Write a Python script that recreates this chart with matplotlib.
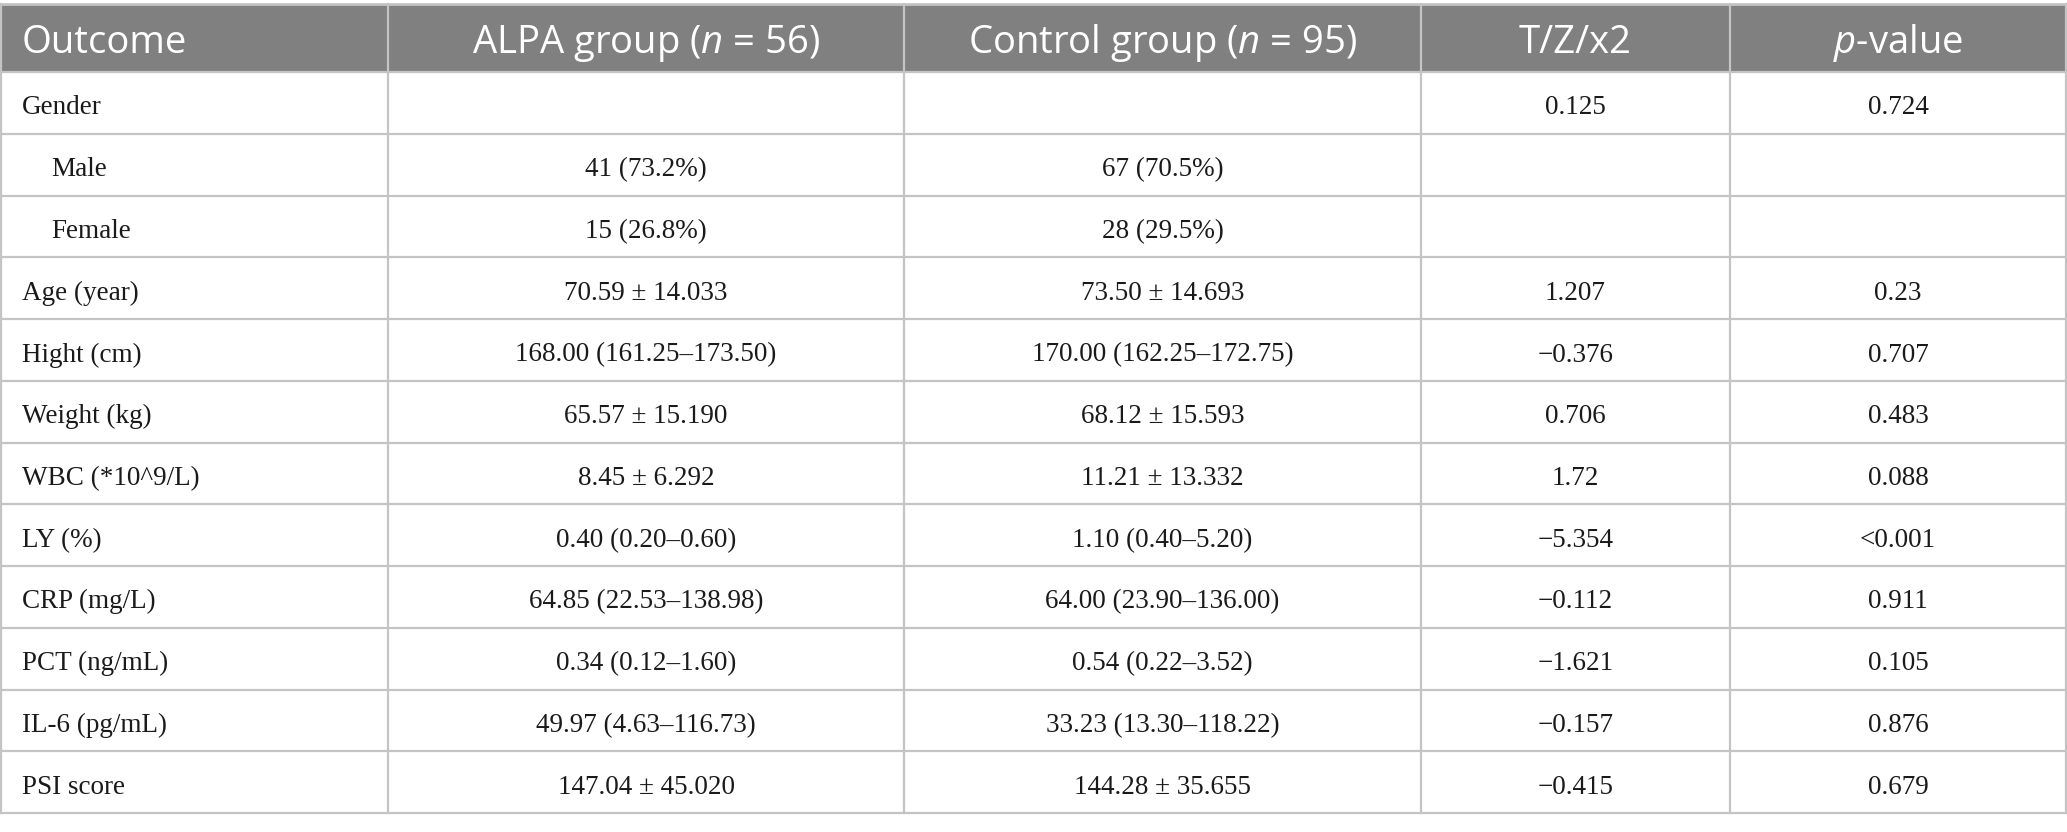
import matplotlib
matplotlib.use("Agg")
import matplotlib.pyplot as plt
from matplotlib.patches import Rectangle

# table content
headers = ["Outcome", r"ALPA group ($n$ = 56)", r"Control group ($n$ = 95)", "T/Z/x2", r"$p$-value"]
outcomes = ["Gender", "Male", "Female", "Age (year)", "Hight (cm)", "Weight (kg)",
            "WBC (*10^9/L)", "LY (%)", "CRP (mg/L)", "PCT (ng/mL)", "IL-6 (pg/mL)", "PSI score"]
indented = [False, True, True, False, False, False, False, False, False, False, False, False]
alpa = ["", "41 (73.2%)", "15 (26.8%)", "70.59 ± 14.033", "168.00 (161.25–173.50)",
        "65.57 ± 15.190", "8.45 ± 6.292", "0.40 (0.20–0.60)", "64.85 (22.53–138.98)",
        "0.34 (0.12–1.60)", "49.97 (4.63–116.73)", "147.04 ± 45.020"]
control = ["", "67 (70.5%)", "28 (29.5%)", "73.50 ± 14.693", "170.00 (162.25–172.75)",
           "68.12 ± 15.593", "11.21 ± 13.332", "1.10 (0.40–5.20)", "64.00 (23.90–136.00)",
           "0.54 (0.22–3.52)", "33.23 (13.30–118.22)", "144.28 ± 35.655"]
stat = ["0.125", "", "", "1.207", "\u22120.376", "0.706", "1.72", "\u22125.354",
        "\u22120.112", "\u22121.621", "\u22120.157", "\u22120.415"]
pval = ["0.724", "", "", "0.23", "0.707", "0.483", "0.088", "<0.001", "0.911",
        "0.105", "0.876", "0.679"]

# layout (pixels)
W, H = 2067, 832
col_edges = [1, 388, 904, 1421, 1730, 2066]
top, head_bottom, bottom = 4, 72, 813
header_color = "#808080"
line_color = "#c4c4c4"

plt.rcParams["mathtext.fontset"] = "custom"
plt.rcParams["mathtext.rm"] = "Open Sans"
plt.rcParams["mathtext.it"] = "Open Sans:italic"

fig = plt.figure(figsize=(W / 100, H / 100), dpi=100)
ax = fig.add_axes([0, 0, 1, 1])
ax.set_xlim(0, W)
ax.set_ylim(H, 0)
ax.axis("off")

# header band
ax.add_patch(Rectangle((col_edges[0], top), col_edges[-1] - col_edges[0],
                       head_bottom - top, facecolor=header_color, edgecolor="none"))

n_rows = len(outcomes)
row_h = (bottom - head_bottom) / n_rows
row_edges = [head_bottom + i * row_h for i in range(n_rows + 1)]

# grid lines
ax.plot([col_edges[0], col_edges[-1]], [top, top], color=line_color, lw=2)
for y in row_edges:
    ax.plot([col_edges[0], col_edges[-1]], [y, y], color=line_color, lw=1.6)
for x in col_edges:
    ax.plot([x, x], [top, bottom], color=line_color, lw=1.6)

# header text
head_base = 53
for j, h in enumerate(headers):
    if j == 0:
        ax.text(col_edges[0] + 21, head_base, h, ha="left", va="baseline", color="white",
                fontsize=27.5, family="Open Sans")
    else:
        ax.text((col_edges[j] + col_edges[j + 1]) / 2, head_base, h, ha="center",
                va="baseline", color="white", fontsize=27.5, family="Open Sans")

# body text
body_font = dict(fontsize=19.5, family="Liberation Serif", color="#1a1a1a")
for i in range(n_rows):
    yb = row_edges[i] + 42.5
    x0 = col_edges[0] + (50 if indented[i] else 21)
    ax.text(x0, yb, outcomes[i], ha="left", va="baseline", **body_font)
    for j, col in enumerate([alpa, control, stat, pval], start=1):
        ax.text((col_edges[j] + col_edges[j + 1]) / 2, yb, col[i],
                ha="center", va="baseline", **body_font)

fig.savefig("out.png", dpi=100)
